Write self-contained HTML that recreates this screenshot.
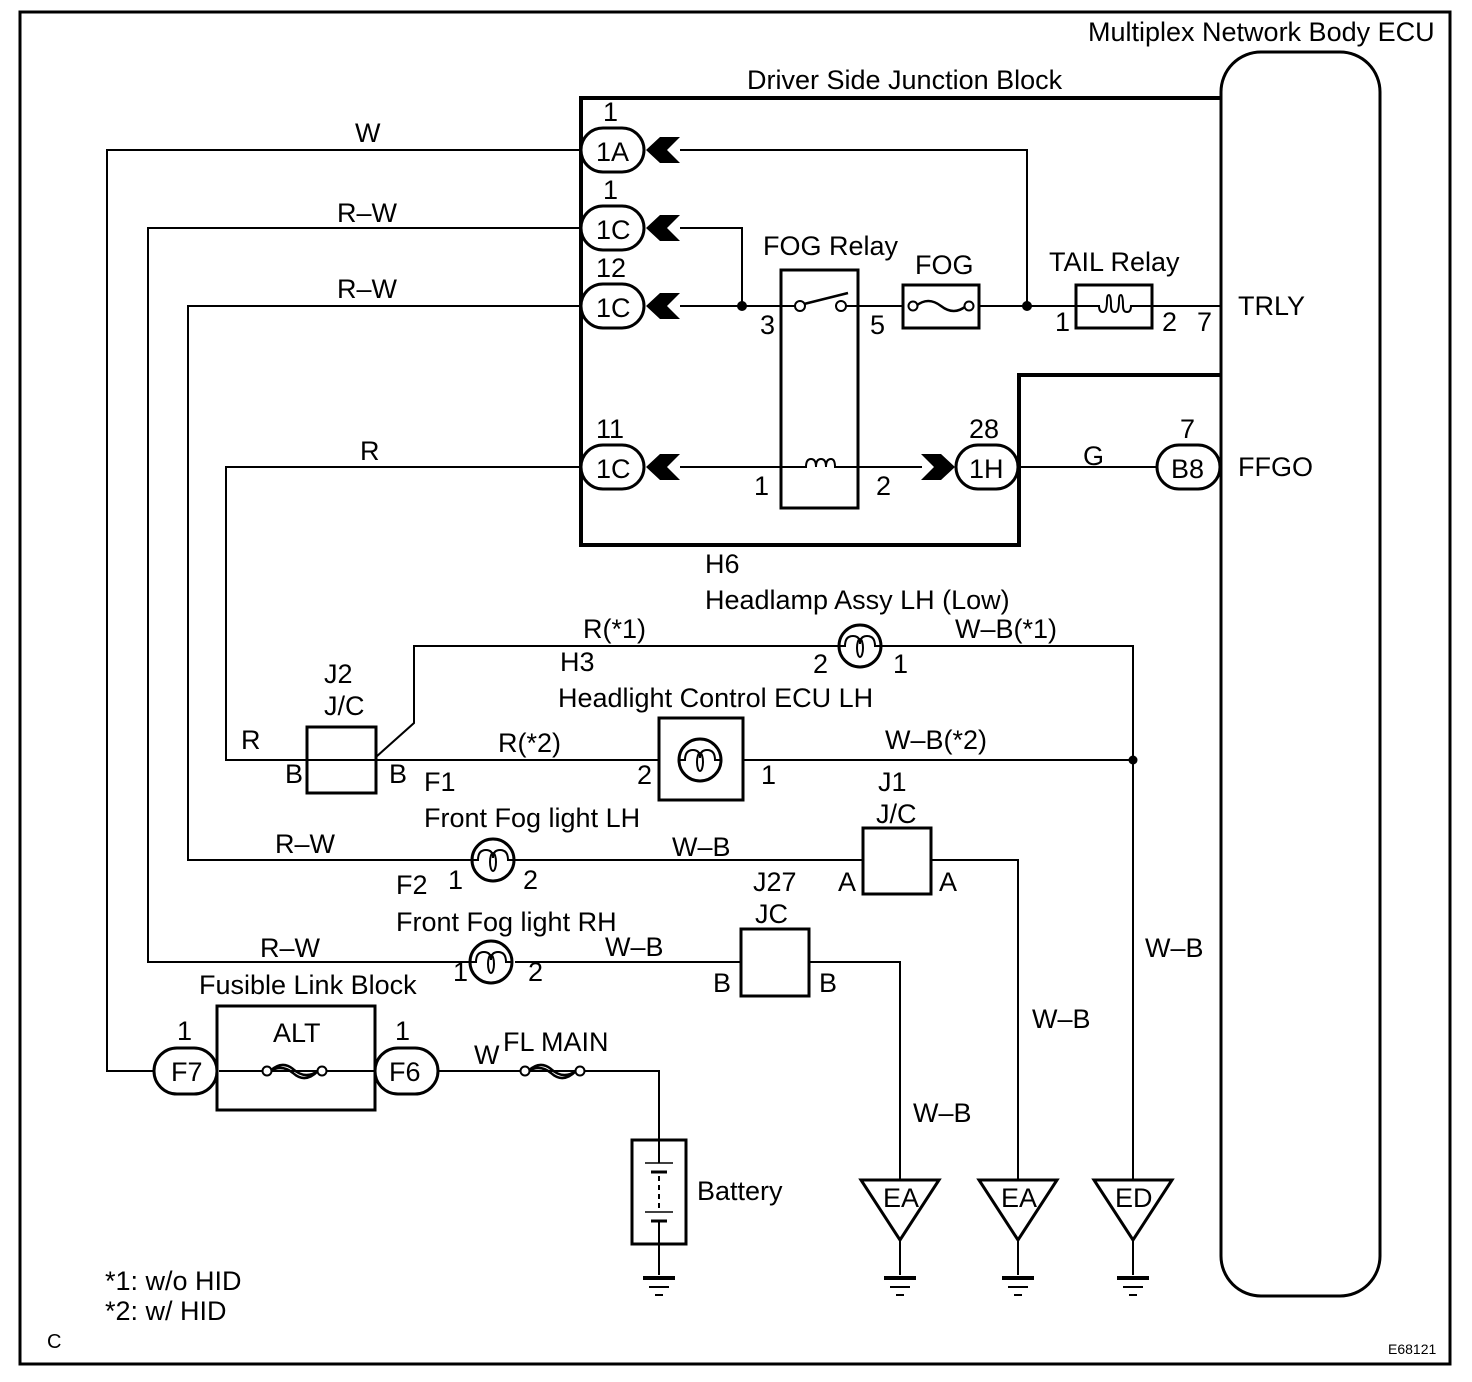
<!DOCTYPE html>
<html><head><meta charset="utf-8"><style>
html,body{margin:0;padding:0;background:#fff;}
svg{display:block;}
text{font-family:"Liberation Sans",Arial,sans-serif;font-size:27px;fill:#000;}
</style></head><body>
<svg width="1472" height="1382" viewBox="0 0 1472 1382" xmlns="http://www.w3.org/2000/svg">
<defs>
<g id="lamp"><circle r="21" fill="#fff" stroke="#000" stroke-width="3"/><path d="M-21,0 H-15 Q-15,-10 -7,-10 Q0,-10 0,-2 Q0,-10 7,-10 Q15,-10 15,0 H21" fill="none" stroke="#000" stroke-width="2"/><ellipse cx="0" cy="2" rx="3" ry="9" fill="none" stroke="#000" stroke-width="2"/></g>
<g id="chevL"><path d="M0,0 L14,-13 H34 L21,0 L34,13 H14 Z" fill="#000"/></g>
<g id="gnd"><line x1="-16" y1="0" x2="16" y2="0" stroke="#000" stroke-width="4"/><line x1="-10" y1="9" x2="10" y2="9" stroke="#000" stroke-width="2"/><line x1="-4" y1="17" x2="4" y2="17" stroke="#000" stroke-width="2"/></g>
</defs>
<g fill="none" stroke="#000">
<rect x="20" y="12" width="1430" height="1352" stroke-width="3"/>
<rect x="1221" y="52" width="159" height="1244" rx="40" stroke-width="3"/>
<polyline points="1221,98 581,98 581,545 1019,545 1019,375 1221,375" stroke-width="4"/>
<g stroke-width="2">
<polyline points="581,150 107,150 107,1071 155,1071"/>
<polyline points="581,228 148,228 148,962 470,962"/>
<polyline points="515,962 741,962"/><polyline points="809,962 900,962 900,1180"/>
<polyline points="581,306 188,306 188,860 472,860"/>
<polyline points="515,860 863,860"/><polyline points="931,860 1018,860 1018,1180"/>
<polyline points="581,467 226,467 226,760 658,760"/>
<polyline points="743,760 1133,760"/>
<polyline points="376,757 414,723 414,646 1133,646 1133,1180"/>
<polyline points="680,150 1027,150 1027,306"/>
<polyline points="680,228 742,228 742,306"/>
<line x1="680" y1="306" x2="795" y2="306"/>
<line x1="846" y1="306" x2="1221" y2="306"/>
<line x1="680" y1="467" x2="922" y2="467"/>
<line x1="1019" y1="467" x2="1157" y2="467"/>
<line x1="219" y1="1071" x2="374" y2="1071"/>
<polyline points="438,1071 659,1071 659,1140"/>
<line x1="659" y1="1244" x2="659" y2="1275"/>
<line x1="900" y1="1240" x2="900" y2="1275"/>
<line x1="1018" y1="1240" x2="1018" y2="1275"/>
<line x1="1133" y1="1240" x2="1133" y2="1275"/>
</g>
<rect x="781" y="270" width="77" height="238" stroke-width="3" fill="#fff"/>
<line x1="781" y1="306" x2="795" y2="306" stroke-width="2"/>
<line x1="846" y1="306" x2="858" y2="306" stroke-width="2"/>
<line x1="804" y1="304" x2="848" y2="293" stroke-width="2.5"/>
<circle cx="800" cy="306" r="5" fill="#fff" stroke-width="2"/>
<circle cx="841" cy="306" r="5" fill="#fff" stroke-width="2"/>
<path d="M781,467 H806 Q806,459 811,459 Q816,459 816,467 Q816,459 821,459 Q826,459 826,467 Q826,459 831,459 Q835,459 835,467 H858" stroke-width="2"/>
<rect x="903" y="285" width="76" height="43" stroke-width="3" fill="#fff"/>
<path d="M916,306 Q928,296 941,306 Q954,316 966,306" stroke-width="2.5"/>
<circle cx="913" cy="306" r="4.5" fill="#fff" stroke-width="2"/>
<circle cx="969" cy="306" r="4.5" fill="#fff" stroke-width="2"/>
<rect x="1076" y="285" width="76" height="43" stroke-width="3" fill="#fff"/>
<path d="M1076,306 H1099 Q1099,312 1103,312 Q1107,312 1107,300 Q1107,295 1109,295 Q1111,295 1111,306 Q1111,312 1115,312 Q1119,312 1119,300 Q1119,295 1121,295 Q1123,295 1123,306 Q1123,312 1127,312 Q1131,312 1131,306 H1152" stroke-width="2"/>
<rect x="307" y="727" width="69" height="66" stroke-width="3"/>
<rect x="659" y="718" width="84" height="82" stroke-width="3"/>
<rect x="863" y="828" width="68" height="66" stroke-width="3"/>
<rect x="741" y="929" width="68" height="67" stroke-width="3"/>
<rect x="217" y="1006" width="158" height="104" stroke-width="3"/>
<rect x="632" y="1140" width="54" height="104" stroke-width="3"/>
<line x1="645" y1="1163" x2="673" y2="1163" stroke-width="1.5"/>
<line x1="651" y1="1172" x2="667" y2="1172" stroke-width="3"/>
<line x1="659" y1="1176" x2="659" y2="1210" stroke-width="2" stroke-dasharray="5,4"/>
<line x1="645" y1="1212" x2="673" y2="1212" stroke-width="1.5"/>
<line x1="651" y1="1221" x2="667" y2="1221" stroke-width="3"/>
<line x1="659" y1="1140" x2="659" y2="1163" stroke-width="2"/>
<line x1="659" y1="1221" x2="659" y2="1244" stroke-width="2"/>
<path d="M270,1071 Q282,1060 293,1069 Q305,1080 318,1071 M270,1071 Q282,1064 293,1073 Q305,1084 318,1071" stroke-width="2.5"/>
<circle cx="267" cy="1071" r="4.5" fill="#fff" stroke-width="2"/>
<circle cx="322" cy="1071" r="4.5" fill="#fff" stroke-width="2"/>
<path d="M528,1071 Q540,1060 551,1069 Q563,1080 576,1071 M528,1071 Q540,1064 551,1073 Q563,1084 576,1071" stroke-width="2.5"/>
<circle cx="525" cy="1071" r="4.5" fill="#fff" stroke-width="2"/>
<circle cx="580" cy="1071" r="4.5" fill="#fff" stroke-width="2"/>
<g stroke-width="3" fill="#fff">
<rect x="581" y="128" width="63" height="44" rx="22"/>
<rect x="581" y="206" width="63" height="44" rx="22"/>
<rect x="581" y="284" width="63" height="44" rx="22"/>
<rect x="581" y="445" width="63" height="44" rx="22"/>
<rect x="956" y="445" width="62" height="44" rx="22"/>
<rect x="1157" y="445" width="63" height="44" rx="22"/>
<rect x="154" y="1048" width="63" height="46" rx="23"/>
<rect x="375" y="1048" width="63" height="46" rx="23"/>
</g>
<g stroke-width="3" fill="#fff">
<polygon points="861,1180 939,1180 900,1240"/>
<polygon points="979,1180 1057,1180 1018,1240"/>
<polygon points="1094,1180 1172,1180 1133,1240"/>
</g>
</g>
<use href="#chevL" x="646" y="150"/>
<use href="#chevL" x="646" y="228"/>
<use href="#chevL" x="646" y="306"/>
<use href="#chevL" x="646" y="467"/>
<path d="M955,467 L941,454 H921 L934,467 L921,480 H941 Z" fill="#000"/>
<circle cx="742" cy="306" r="5"/><circle cx="1027" cy="306" r="5"/><circle cx="1133" cy="760" r="4.5"/>
<use href="#lamp" x="860" y="646"/>
<use href="#lamp" x="700" y="760"/>
<use href="#lamp" x="493" y="860"/>
<use href="#lamp" x="491" y="962"/>
<use href="#gnd" x="659" y="1278"/><use href="#gnd" x="900" y="1278"/><use href="#gnd" x="1018" y="1278"/><use href="#gnd" x="1133" y="1278"/>
<g>
<text x="1088" y="41">Multiplex Network Body ECU</text>
<text x="747" y="89">Driver Side Junction Block</text>
<text x="603" y="121">1</text><text x="596" y="161">1A</text>
<text x="603" y="199">1</text><text x="596" y="239">1C</text>
<text x="596" y="277">12</text><text x="596" y="317">1C</text>
<text x="596" y="438">11</text><text x="596" y="478">1C</text>
<text x="969" y="438">28</text><text x="969" y="478">1H</text>
<text x="1180" y="438">7</text><text x="1171" y="478">B8</text>
<text x="1238" y="476">FFGO</text>
<text x="1238" y="315">TRLY</text>
<text x="355" y="142">W</text>
<text x="337" y="222">R–W</text>
<text x="337" y="298">R–W</text>
<text x="360" y="460">R</text>
<text x="763" y="255">FOG Relay</text>
<text x="915" y="274">FOG</text>
<text x="1049" y="271">TAIL Relay</text>
<text x="760" y="334">3</text><text x="870" y="334">5</text>
<text x="1055" y="331">1</text><text x="1162" y="331">2</text><text x="1197" y="331">7</text>
<text x="754" y="495">1</text><text x="876" y="495">2</text>
<text x="1083" y="465">G</text>
<text x="705" y="573">H6</text>
<text x="705" y="609">Headlamp Assy LH (Low)</text>
<text x="583" y="638">R(*1)</text>
<text x="955" y="638">W–B(*1)</text>
<text x="813" y="673">2</text><text x="893" y="673">1</text>
<text x="560" y="671">H3</text>
<text x="558" y="707">Headlight Control ECU LH</text>
<text x="324" y="683">J2</text><text x="324" y="715">J/C</text>
<text x="241" y="749">R</text>
<text x="498" y="752">R(*2)</text>
<text x="885" y="749">W–B(*2)</text>
<text x="285" y="783">B</text><text x="389" y="783">B</text>
<text x="424" y="791">F1</text>
<text x="637" y="784">2</text><text x="761" y="784">1</text>
<text x="878" y="791">J1</text><text x="876" y="823">J/C</text>
<text x="424" y="827">Front Fog light LH</text>
<text x="275" y="853">R–W</text>
<text x="672" y="856">W–B</text>
<text x="448" y="889">1</text><text x="523" y="889">2</text>
<text x="838" y="891">A</text><text x="939" y="891">A</text>
<text x="396" y="894">F2</text>
<text x="753" y="891">J27</text><text x="755" y="923">JC</text>
<text x="396" y="931">Front Fog light RH</text>
<text x="260" y="957">R–W</text>
<text x="605" y="956">W–B</text>
<text x="453" y="981">1</text><text x="528" y="981">2</text>
<text x="1145" y="957">W–B</text>
<text x="713" y="992">B</text><text x="819" y="992">B</text>
<text x="199" y="994">Fusible Link Block</text>
<text x="1032" y="1028">W–B</text>
<text x="177" y="1040">1</text><text x="395" y="1040">1</text>
<text x="273" y="1042">ALT</text>
<text x="171" y="1081">F7</text><text x="389" y="1081">F6</text>
<text x="474" y="1064">W</text><text x="503" y="1051">FL MAIN</text>
<text x="913" y="1122">W–B</text>
<text x="697" y="1200">Battery</text>
<text x="105" y="1290">*1: w/o HID</text>
<text x="105" y="1320">*2: w/ HID</text>
<text x="47" y="1348" style="font-size:20px">C</text>
<text x="1388" y="1354" style="font-size:14px">E68121</text>
<text x="883" y="1207">EA</text><text x="1001" y="1207">EA</text><text x="1115" y="1207">ED</text>
</g>
</svg>
</body></html>
